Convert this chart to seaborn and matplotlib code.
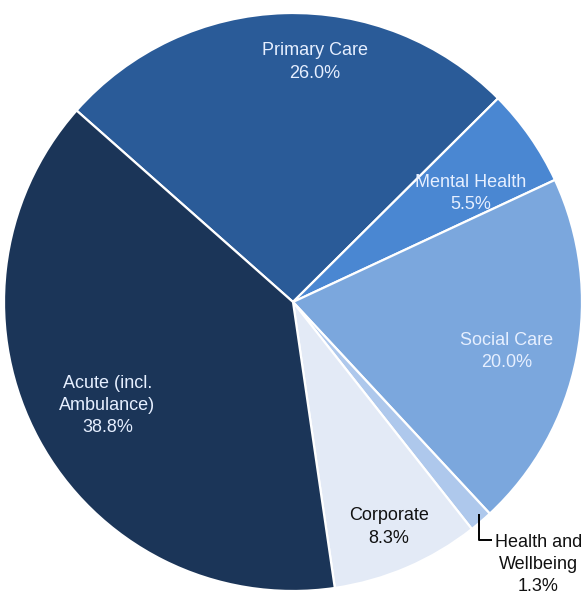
import numpy as np
import matplotlib
matplotlib.use("Agg")
import matplotlib.pyplot as plt
import seaborn as sns

# Budget split by service area (percent of total)
categories = ["Primary Care", "Mental Health", "Social Care",
              "Health and\nWellbeing", "Corporate", "Acute (incl.\nAmbulance)"]
shares = [26.0, 5.5, 20.0, 1.3, 8.3, 38.8]
colors = ["#2a5b98", "#4a87d2", "#7ba7dd", "#aec8ec", "#e3eaf6", "#1b3558"]
text_colors = ["#e6efff", "#e6efff", "#e6efff", "#111111", "#111111", "#e6efff"]
# label placement inside each wedge: radius fraction and angular nudge (deg)
label_radius = [0.834, 0.72, 0.76, None, 0.846, 0.735]
label_nudge = [-6.9, -3.4, -1.9, 0.0, -0.2, 0.7]

sns.set_theme(style="white")
plt.rcParams["font.family"] = ["Liberation Sans", "DejaVu Sans"]

W, H = 584, 595
fig = plt.figure(figsize=(W / 100, H / 100), dpi=100)
ax = fig.add_axes([0, 0, 1, 1])

cx, cy, R = 293, H - 302, 289
wedges, _ = ax.pie(shares, colors=colors, startangle=138.5, counterclock=False,
                   center=(cx, cy), radius=R, frame=True,
                   wedgeprops=dict(edgecolor="white", linewidth=1.6))
ax.set_xlim(0, W)
ax.set_ylim(0, H)
ax.set_aspect("equal")
ax.axis("off")

for w, name, val, tc, lr, nd in zip(wedges, categories, shares, text_colors,
                                    label_radius, label_nudge):
    mid = np.deg2rad((w.theta1 + w.theta2) / 2 + nd)
    label = f"{name}\n{val:.1f}%"
    if lr is not None:
        x = cx + lr * R * np.cos(mid)
        y = cy + lr * R * np.sin(mid)
        ax.text(x, y, label, ha="center", va="center", color=tc,
                fontsize=13, linespacing=1.4)
    else:
        # small slice: label outside with an elbow leader line
        ex = cx + 0.985 * R * np.cos(mid)
        ey = cy + 0.985 * R * np.sin(mid)
        ax.plot([ex + 1, ex + 1, ex + 14], [ey + 4, ey - 22, ey - 22],
                color="black", lw=1.4, solid_capstyle="butt")
        ax.text(ex + 60, ey - 46, label, ha="center", va="center", color=tc,
                fontsize=13, linespacing=1.4)

fig.savefig("out.png", dpi=100)
